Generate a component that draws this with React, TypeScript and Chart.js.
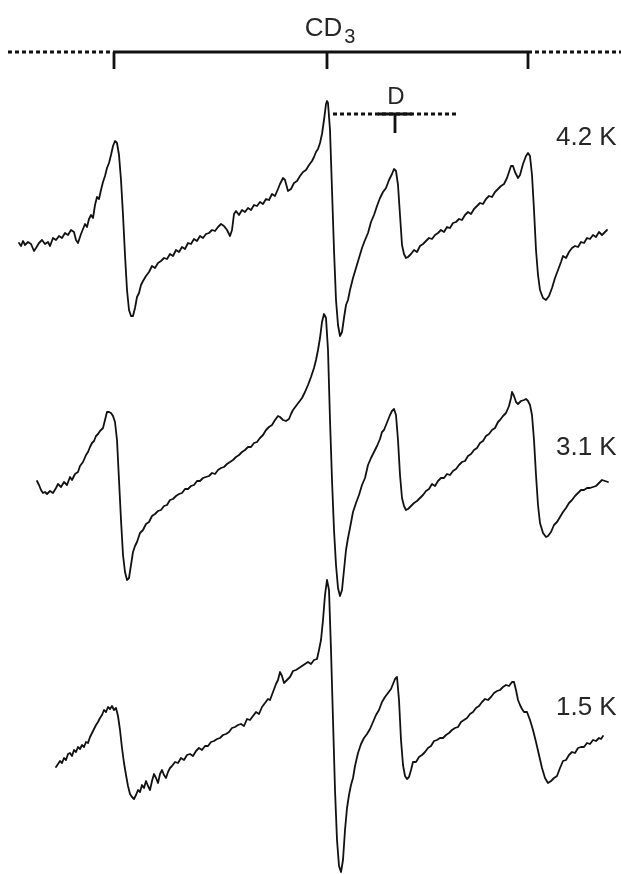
import React, { useEffect, useRef } from "react";
import { Chart, registerables } from "chart.js";

Chart.register(...registerables);

// Field axis in arbitrary units, signal in arbitrary units (derivative EPR spectra).
const FIELD_MIN = 0;
const FIELD_MAX = 621;
const SIGNAL_MIN = -654;
const SIGNAL_MAX = 220;

// Temperatures and vertical stacking offsets of the spectra.
const temperatures = ["4.2 K", "3.1 K", "1.5 K"];
const stackOffsets = [0, -250, -510];
const labelField = 556;
const labelLevels = [82, 22, 22];

// CD3 quartet stick diagram and the D doublet marker.
const cd3Lines = [114, 327, 528];
const cd3Level = 168;
const cd3TickDepth = 17;
const cd3DottedLeft = [8, 114];
const cd3DottedRight = [528, 621];
const dLine = 395;
const dLevel = 106;
const dTickDepth = 19;
const dDotted = [333, 458];
const dSolid = [378, 412];

// Spectrum at 4.2 K: [field, signal]
const spectrum42K: [number, number][] = [
  [19, -23], [21, -26], [23, -21], [25, -25], [28, -22], [31, -24], [34, -31], [36, -28], [39, -23], [42, -20],
  [45, -24], [48, -22], [50, -26], [53, -18], [56, -20], [59, -16], [62, -18], [65, -13], [68, -15], [71, -10],
  [74, -12], [76, -20], [78, -23], [81, -14], [83, -9], [85, -4], [87, -7], [89, 1], [91, 5], [93, 2],
  [95, 15], [97, 23], [99, 21], [101, 30], [103, 38], [105, 44], [107, 52], [109, 57], [111, 65], [113, 74],
  [115, 79], [117, 77], [119, 65], [121, 40], [123, 5], [125, -35], [127, -70], [129, -90], [131, -96], [133, -96],
  [135, -88], [137, -77], [139, -73], [141, -65], [143, -61], [146, -56], [149, -52], [152, -46], [155, -48], [158, -43],
  [161, -41], [164, -38], [167, -39], [170, -34], [173, -36], [176, -30], [179, -32], [182, -27], [185, -29], [188, -23],
  [191, -24], [194, -19], [197, -21], [200, -16], [203, -18], [206, -14], [209, -13], [212, -10], [215, -11], [218, -7],
  [221, -4], [224, -6], [227, -10], [230, -16], [232, -10], [234, 6], [236, 9], [239, 5], [242, 10], [245, 8],
  [248, 12], [251, 10], [254, 15], [257, 14], [260, 18], [263, 16], [266, 21], [269, 20], [272, 26], [275, 24],
  [278, 31], [280, 36], [283, 42], [285, 40], [288, 29], [291, 31], [294, 37], [297, 39], [300, 44], [303, 48],
  [306, 50], [309, 55], [312, 59], [314, 63], [316, 68], [318, 71], [320, 77], [322, 86], [324, 100], [326, 116],
  [327, 119], [328, 117], [330, 90], [332, 30], [334, -30], [336, -80], [338, -105], [340, -116], [342, -112], [344, -98],
  [346, -85], [348, -80], [350, -70], [353, -58], [356, -48], [359, -38], [362, -28], [365, -20], [368, -13], [371, -2],
  [374, 5], [377, 14], [380, 22], [383, 28], [386, 32], [389, 40], [392, 46], [394, 51], [396, 49], [398, 35],
  [400, 5], [402, -25], [404, -34], [406, -38], [408, -37], [411, -34], [414, -30], [417, -32], [420, -26], [423, -24],
  [426, -21], [429, -18], [432, -19], [435, -15], [438, -13], [441, -10], [444, -12], [447, -7], [450, -8], [453, -3],
  [456, -2], [459, 1], [462, 0], [465, 5], [468, 8], [471, 6], [474, 11], [477, 14], [480, 17], [483, 16],
  [486, 21], [489, 24], [492, 23], [495, 28], [498, 31], [501, 34], [504, 36], [507, 42], [509, 48], [511, 54],
  [513, 54], [515, 48], [518, 42], [520, 45], [523, 56], [526, 64], [528, 67], [530, 64], [532, 45], [534, 10],
  [536, -30], [538, -55], [540, -70], [543, -78], [546, -80], [549, -76], [552, -68], [555, -58], [558, -50], [561, -42],
  [563, -36], [566, -38], [569, -32], [572, -28], [575, -26], [578, -27], [581, -22], [584, -23], [587, -18], [590, -19],
  [593, -15], [596, -17], [599, -12], [602, -15], [605, -12], [607, -10],
];

// Spectrum at 3.1 K: [field, signal]
const spectrum31K: [number, number][] = [
  [37, -11], [39, -15], [41, -20], [43, -23], [45, -22], [47, -24], [50, -21], [53, -23], [56, -18], [58, -14],
  [61, -17], [64, -12], [67, -15], [70, -7], [72, -10], [75, -4], [78, -2], [80, 4], [83, 8], [86, 15],
  [88, 18], [90, 23], [92, 27], [94, 29], [96, 34], [98, 36], [100, 39], [103, 42], [105, 50], [107, 58],
  [109, 58], [111, 57], [113, 54], [115, 48], [117, 30], [119, -10], [121, -50], [123, -85], [125, -102], [127, -110],
  [129, -108], [131, -95], [133, -82], [135, -76], [137, -72], [140, -63], [143, -60], [146, -54], [149, -52], [152, -46],
  [155, -44], [158, -41], [161, -40], [164, -36], [167, -35], [170, -30], [173, -29], [176, -26], [179, -24], [182, -23],
  [185, -19], [188, -19], [191, -16], [194, -15], [197, -11], [200, -11], [203, -8], [206, -7], [209, -6], [212, -3],
  [215, -4], [218, 0], [221, 2], [224, 3], [227, 6], [230, 8], [233, 10], [236, 13], [239, 15], [242, 18],
  [245, 20], [248, 23], [251, 23], [254, 27], [257, 28], [260, 32], [263, 35], [266, 40], [269, 43], [272, 45],
  [275, 50], [278, 54], [280, 53], [283, 50], [286, 49], [289, 51], [291, 56], [293, 60], [296, 64], [299, 68],
  [302, 72], [305, 78], [308, 85], [311, 93], [314, 102], [316, 110], [318, 120], [320, 132], [322, 148], [324, 156],
  [326, 152], [328, 120], [330, 50], [332, -10], [334, -60], [336, -95], [338, -118], [340, -126], [342, -120], [344, -100],
  [346, -80], [348, -68], [350, -58], [353, -42], [356, -33], [359, -25], [362, -15], [365, -8], [368, 5], [371, 12],
  [374, 18], [377, 24], [380, 31], [382, 38], [384, 40], [386, 45], [388, 50], [390, 55], [392, 59], [394, 61],
  [396, 55], [398, 30], [400, -5], [402, -28], [404, -36], [406, -40], [408, -39], [411, -36], [414, -33], [417, -31],
  [420, -28], [423, -25], [426, -21], [429, -19], [432, -14], [435, -16], [438, -11], [441, -8], [444, -8], [447, -4],
  [450, -5], [453, -1], [456, 1], [459, 5], [462, 8], [465, 9], [468, 14], [471, 16], [474, 20], [477, 22],
  [480, 27], [483, 29], [486, 34], [489, 36], [492, 40], [495, 42], [498, 48], [500, 50], [503, 54], [506, 57],
  [509, 64], [511, 72], [512, 78], [514, 74], [516, 68], [518, 66], [521, 69], [524, 70], [526, 71], [528, 69],
  [530, 65], [532, 55], [534, 30], [536, -5], [538, -35], [540, -53], [543, -63], [546, -67], [548, -66], [551, -62],
  [554, -55], [557, -52], [560, -47], [563, -42], [566, -38], [569, -33], [572, -30], [575, -26], [578, -23], [581, -20],
  [584, -20], [587, -18], [590, -18], [593, -17], [596, -16], [599, -13], [602, -10], [605, -11], [608, -12],
];

// Spectrum at 1.5 K: [field, signal]
const spectrum15K: [number, number][] = [
  [56, -37], [58, -34], [60, -31], [62, -33], [64, -28], [66, -30], [68, -24], [70, -23], [72, -26], [74, -20],
  [76, -22], [78, -17], [80, -19], [82, -15], [84, -17], [86, -12], [88, -13], [90, -7], [92, -3], [94, 1],
  [96, 5], [98, 8], [100, 12], [102, 15], [104, 20], [106, 18], [108, 23], [110, 21], [112, 24], [114, 20],
  [116, 22], [118, 14], [120, 0], [122, -18], [124, -33], [126, -45], [128, -56], [130, -64], [132, -67], [134, -69],
  [136, -65], [138, -60], [140, -62], [142, -55], [144, -58], [146, -51], [148, -56], [150, -60], [152, -51], [154, -44],
  [156, -48], [158, -53], [160, -44], [162, -40], [164, -45], [166, -48], [168, -42], [170, -38], [172, -36], [175, -32],
  [178, -33], [181, -28], [184, -30], [187, -25], [190, -24], [193, -26], [196, -21], [199, -18], [202, -20], [205, -16],
  [208, -16], [211, -12], [214, -11], [217, -9], [220, -8], [223, -5], [226, -4], [229, -2], [232, 2], [235, 3],
  [238, 5], [241, 6], [244, 4], [247, 11], [250, 10], [253, 14], [256, 18], [259, 16], [262, 23], [265, 27],
  [268, 31], [270, 30], [273, 38], [276, 46], [278, 50], [280, 58], [282, 54], [284, 47], [287, 50], [290, 53],
  [293, 59], [296, 60], [299, 62], [302, 64], [305, 66], [308, 68], [311, 66], [314, 70], [317, 71], [319, 80],
  [321, 90], [323, 110], [325, 135], [327, 150], [329, 140], [331, 80], [333, 10], [335, -60], [337, -110], [339, -136],
  [341, -142], [343, -130], [345, -100], [347, -78], [349, -65], [351, -55], [353, -48], [355, -36], [358, -23], [361, -14],
  [364, -8], [367, -4], [370, 1], [373, 8], [376, 15], [379, 20], [382, 28], [385, 33], [388, 37], [391, 41],
  [393, 46], [395, 51], [397, 53], [399, 30], [401, -10], [403, -35], [405, -46], [407, -49], [409, -47], [411, -40],
  [413, -32], [416, -32], [419, -27], [422, -25], [425, -22], [428, -18], [431, -16], [434, -11], [437, -10], [440, -8],
  [443, -8], [446, -5], [449, -3], [452, 0], [455, 2], [458, 3], [461, 8], [464, 10], [467, 12], [470, 16],
  [473, 18], [476, 22], [479, 24], [482, 28], [485, 31], [488, 30], [491, 33], [494, 37], [497, 39], [500, 40],
  [503, 43], [506, 45], [509, 44], [512, 48], [514, 48], [516, 40], [518, 30], [520, 25], [522, 21], [524, 18],
  [527, 18], [530, 10], [533, 0], [536, -12], [539, -25], [542, -38], [545, -48], [548, -53], [551, -51], [554, -48],
  [557, -46], [560, -38], [563, -31], [566, -30], [569, -25], [572, -22], [575, -23], [578, -18], [581, -17], [584, -17],
  [587, -13], [590, -14], [593, -10], [596, -11], [599, -8], [601, -9], [603, -6],
];

const spectra = [spectrum42K, spectrum31K, spectrum15K];

const INK = "#111111";
const TEXT = "#262626";
const FONT = "'Liberation Sans', Arial, Helvetica, sans-serif";

type Pt = { x: number; y: number | null };

function segment(x0: number, x1: number, y: number): Pt[] {
  return [{ x: x0, y }, { x: x1, y }];
}

function ticks(xs: number[], top: number, depth: number): Pt[] {
  const pts: Pt[] = [];
  xs.forEach((x, i) => {
    if (i > 0) pts.push({ x, y: null });
    pts.push({ x, y: top }, { x, y: top - depth });
  });
  return pts;
}

const textPlugin = {
  id: "eprText",
  afterDatasetsDraw(chart: any) {
    const { ctx, scales } = chart;
    const xs = scales.x;
    const ys = scales.y;
    ctx.save();
    ctx.fillStyle = TEXT;
    ctx.textBaseline = "middle";
    ctx.textAlign = "left";
    ctx.font = `26px ${FONT}`;
    temperatures.forEach((t, i) => {
      ctx.fillText(t, xs.getPixelForValue(labelField), ys.getPixelForValue(labelLevels[i] + stackOffsets[i]));
    });

    // CD3 label with subscript
    ctx.textBaseline = "alphabetic";
    const mainFont = `26px ${FONT}`;
    const subFont = `20px ${FONT}`;
    ctx.font = mainFont;
    const wMain = ctx.measureText("CD").width;
    ctx.font = subFont;
    const wSub = ctx.measureText("3").width;
    const cx = xs.getPixelForValue(cd3Lines[1]);
    const baseY = ys.getPixelForValue(cd3Level + 16);
    const startX = cx + 3 - (wMain + wSub + 2) / 2;
    ctx.font = mainFont;
    ctx.fillText("CD", startX, baseY);
    ctx.font = subFont;
    ctx.fillText("3", startX + wMain + 2, baseY + 7);

    // D label
    ctx.font = `24px ${FONT}`;
    ctx.textAlign = "center";
    ctx.fillText("D", xs.getPixelForValue(dLine) + 1, ys.getPixelForValue(dLevel + 10));
    ctx.restore();
  },
};

export default function App() {
  const canvasRef = useRef<HTMLCanvasElement | null>(null);

  useEffect(() => {
    const canvas = canvasRef.current;
    if (!canvas) return;

    const traceSets = spectra.map((s, i) => ({
      data: s.map(([x, y]) => ({ x, y: y + stackOffsets[i] })),
      borderColor: INK,
      borderWidth: 1.8,
      pointRadius: 0,
      tension: 0,
      borderJoinStyle: "round" as const,
      borderCapStyle: "round" as const,
    }));

    const solid = { borderColor: INK, borderWidth: 2.8, pointRadius: 0, tension: 0, spanGaps: false };
    const dotted = { ...solid, borderDash: [4, 3], borderCapStyle: "butt" as const };

    const markerSets = [
      { ...dotted, data: segment(cd3DottedLeft[0], cd3DottedLeft[1], cd3Level) },
      { ...dotted, data: segment(cd3DottedRight[0], cd3DottedRight[1], cd3Level) },
      { ...solid, data: segment(cd3Lines[0], cd3Lines[cd3Lines.length - 1], cd3Level) },
      { ...solid, data: ticks(cd3Lines, cd3Level, cd3TickDepth) },
      { ...dotted, data: segment(dDotted[0], dDotted[1], dLevel) },
      { ...solid, data: segment(dSolid[0], dSolid[1], dLevel) },
      { ...solid, data: ticks([dLine], dLevel, dTickDepth) },
    ];

    const chart = new Chart(canvas, {
      type: "line",
      data: { datasets: [...traceSets, ...markerSets] as any },
      options: {
        animation: false,
        responsive: false,
        devicePixelRatio: 1,
        layout: { padding: 0 },
        plugins: { legend: { display: false }, tooltip: { enabled: false } },
        scales: {
          x: { type: "linear", min: FIELD_MIN, max: FIELD_MAX, display: false },
          y: { type: "linear", min: SIGNAL_MIN, max: SIGNAL_MAX, display: false },
        },
      },
      plugins: [textPlugin],
    });
    return () => chart.destroy();
  }, []);

  return (
    <div style={{ position: "absolute", left: 0, top: 0, width: 621, height: 874, background: "#fff" }}>
      <canvas ref={canvasRef} width={621} height={874} />
    </div>
  );
}
